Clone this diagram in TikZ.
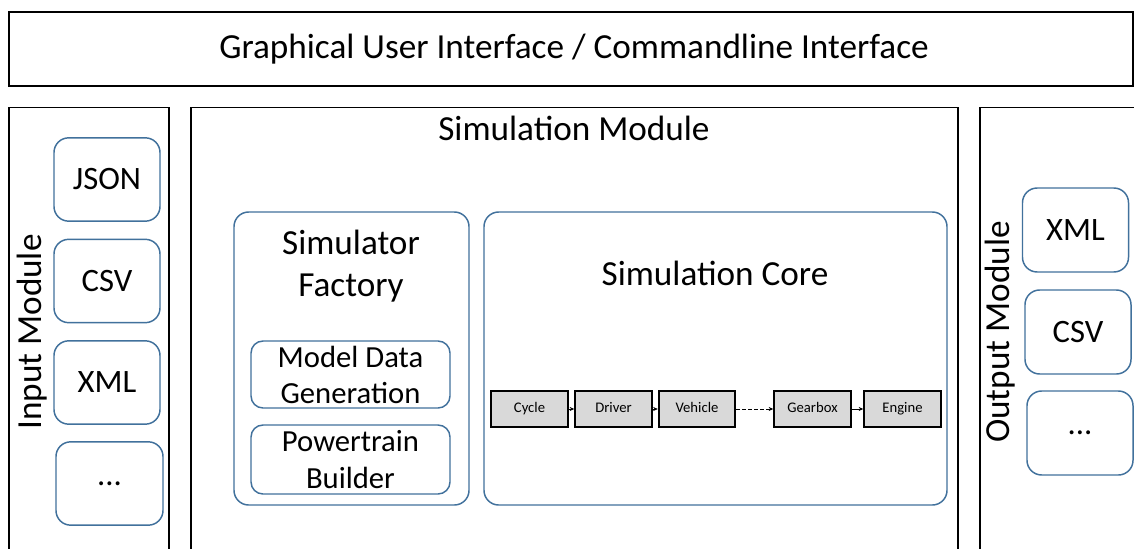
\documentclass[tikz,border=0pt]{standalone}
\usepackage{fontspec}
\setmainfont{Carlito}
\usetikzlibrary{arrows.meta,positioning}
\definecolor{boxblue}{RGB}{65,113,156}
\definecolor{partgray}{RGB}{217,217,217}
\tikzset{
  modbox/.style={draw=black, line width=1.2pt, fill=white},
  fmtbox/.style={draw=boxblue, line width=1.1pt, rounded corners=11pt, fill=white,
    minimum width=79.5pt, minimum height=62.5pt, font=\fontsize{24.5}{28}\selectfont},
  partbox/.style={draw=black, line width=1.3pt, fill=partgray, minimum width=57.5pt,
    minimum height=27pt, text height=1.6ex, text depth=0.4ex,
    font=\fontsize{11}{13}\selectfont},
  flow/.style={-{Stealth[length=3.5pt,width=3pt]}, line width=0.5pt}
}
\begin{document}
\begin{tikzpicture}[x=0.75pt, y=-0.75pt]
  \clip (0,0) rectangle (1134,549);
  % Frames
  \node[modbox, minimum width=843pt, minimum height=55.5pt] (gui) at (571,49) {};
  \node[font=\fontsize{26.4}{30}\selectfont] (guititle) at (574,49)
    {Graphical User Interface / Commandline Interface};
  \node[modbox, minimum width=120pt, minimum height=340pt] (inmod) at (89,334) {};
  \node[modbox, minimum width=575.25pt, minimum height=340pt] (simmod) at (574.5,334) {};
  \node[modbox, minimum width=120pt, minimum height=340pt] (outmod) at (1060,334) {};
  \node[font=\fontsize{26.4}{30}\selectfont] (simtitle) at (574,128) {Simulation Module};
  \node[font=\fontsize{26.4}{30}\selectfont, rotate=90] (intitle) at (32,332) {Input Module};
  \node[font=\fontsize{26.4}{30}\selectfont, rotate=90] (outtitle) at (1000,332) {Output Module};
  % Input formats
  \node[fmtbox] (injson) at (107,179.5) {JSON};
  \node[fmtbox] (incsv) at (107,281) {CSV};
  \node[fmtbox] (inxml) at (107,382.5) {XML};
  \node[fmtbox, minimum width=80.25pt] (inmore) at (109.5,483.5) {...};
  % Output formats
  \node[fmtbox, minimum height=63pt] (outxml) at (1075.5,230) {XML};
  \node[fmtbox, minimum height=63pt] (outcsv) at (1078,332) {CSV};
  \node[fmtbox, minimum height=63pt] (outmore) at (1080,433) {...};
  % Simulator factory
  \node[fmtbox, minimum width=176.25pt, minimum height=219.75pt] (factory) at (351.5,358.5) {};
  \node[font=\fontsize{26.4}{32}\selectfont, align=center] (factitle) at (351,266)
    {Simulator\\Factory};
  \node[fmtbox, minimum width=149.25pt, minimum height=50.25pt, rounded corners=9pt,
    font=\fontsize{23}{27}\selectfont, align=center] (mdgen) at (350.5,374.5)
    {Model Data\\Generation};
  \node[fmtbox, minimum width=149.25pt, minimum height=51.75pt, rounded corners=9pt,
    font=\fontsize{23}{27.5}\selectfont, align=center] (ptbuild) at (350.5,459.5)
    {Powertrain\\Builder};
  % Simulation core
  \node[fmtbox, minimum width=347.25pt, minimum height=219.75pt] (core) at (715.5,358.5) {};
  \node[font=\fontsize{26.4}{30}\selectfont] (coretitle) at (715,273) {Simulation Core};
  \node[partbox] (cycle) at (529.5,409) {Cycle};
  \node[partbox] (driver) at (613.5,409) {Driver};
  \node[partbox] (vehicle) at (697,409) {Vehicle};
  \node[partbox] (gearbox) at (812.5,409) {Gearbox};
  \node[partbox] (engine) at (902.5,409) {Engine};
  \draw[flow] (cycle) -- (driver);
  \draw[flow] (driver) -- (vehicle);
  \draw[flow, dash pattern=on 2.5pt off 2pt] (vehicle) -- (gearbox);
  \draw[flow] (gearbox) -- (engine);
\end{tikzpicture}
\end{document}
